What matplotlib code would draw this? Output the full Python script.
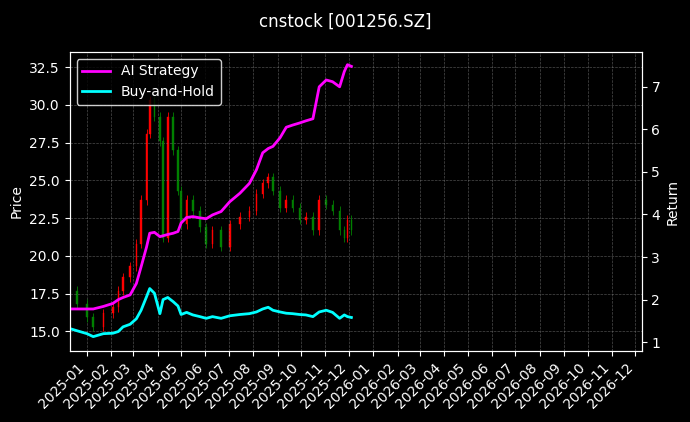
import matplotlib
matplotlib.use("Agg")
import matplotlib.pyplot as plt
import matplotlib.dates as mdates
import numpy as np
import pandas as pd

plt.style.use("dark_background")

dates = ["2024-12-10","2024-12-19","2025-01-01","2025-01-09","2025-01-22","2025-02-03","2025-02-10",
         "2025-02-16","2025-02-25","2025-03-05","2025-03-11","2025-03-18","2025-03-22","2025-03-28",
         "2025-04-04","2025-04-08","2025-04-14","2025-04-21","2025-04-27","2025-05-01","2025-05-08",
         "2025-05-16","2025-05-25","2025-06-02","2025-06-10","2025-06-21","2025-07-02","2025-07-15",
         "2025-07-27","2025-08-05","2025-08-13","2025-08-20","2025-08-26","2025-09-04","2025-09-12",
         "2025-09-20","2025-09-29","2025-10-07","2025-10-16","2025-10-24","2025-11-02","2025-11-10",
         "2025-11-19","2025-11-25","2025-11-29","2025-12-04"]
close = [17.7,16.85,15.95,15.3,16.2,16.6,17.7,18.6,19.3,20.8,23.7,28.1,30.3,29.2,27.6,21.2,29.2,27.0,
         24.3,22.1,23.7,23.0,21.9,20.8,21.7,20.6,22.1,22.6,23.0,24.1,24.8,25.2,24.3,23.2,23.7,23.2,
         22.4,22.6,21.7,23.7,23.4,23.0,21.7,21.2,22.4,21.7]
ai_ret = [1.78,1.78,1.78,1.78,1.84,1.91,2.0,2.05,2.11,2.38,2.77,3.24,3.56,3.58,3.48,3.5,3.53,3.56,3.6,
          3.8,3.93,3.95,3.92,3.9,3.99,4.07,4.3,4.5,4.73,5.05,5.45,5.55,5.6,5.8,6.05,6.1,6.15,6.2,6.25,
          7.0,7.16,7.12,7.0,7.36,7.52,7.48]
bh_ret = [1.32,1.27,1.2,1.13,1.2,1.21,1.25,1.36,1.42,1.55,1.75,2.07,2.26,2.15,1.67,2.0,2.05,1.95,1.85,
          1.65,1.7,1.64,1.6,1.56,1.6,1.56,1.62,1.65,1.67,1.71,1.78,1.82,1.75,1.71,1.68,1.67,1.65,1.64,
          1.6,1.71,1.75,1.7,1.56,1.64,1.6,1.58]

d = pd.to_datetime(dates)
x = mdates.date2num(d)
c = np.array(close)
o = np.concatenate([[c[0]], c[:-1]])

fig = plt.figure(figsize=(6.9, 4.22), dpi=100, facecolor="black")
ax = fig.add_axes([0.101, 0.168, 0.829, 0.709])
ax.set_facecolor("black")
for xi, oi, ci in zip(x, o, c):
    col = "red" if ci >= oi else "green"
    lo, hi = min(oi, ci), max(oi, ci)
    ax.vlines(xi, lo - 0.3, hi + 0.3, color=col, lw=0.6)
    ax.bar(xi, max(hi - lo, 0.05), bottom=lo, width=2.0, color=col, edgecolor=col, lw=0.3)

ax.set_ylim(13.7, 33.5)
ax.set_xlim(mdates.date2num(pd.Timestamp("2024-12-10")), mdates.date2num(pd.Timestamp("2026-12-09")))
ax.set_ylabel("Price")
ax.grid(True, color="gray", ls="--", lw=0.5, alpha=0.6)
ax.xaxis.set_major_locator(mdates.MonthLocator())
ax.xaxis.set_major_formatter(mdates.DateFormatter("%Y-%m"))
plt.setp(ax.get_xticklabels(), rotation=45, ha="right")

ax2 = ax.twinx()
ax2.plot(d, ai_ret, color="magenta", lw=2, label="AI Strategy")
ax2.plot(d, bh_ret, color="cyan", lw=2, label="Buy-and-Hold")
ax2.set_ylim(0.79, 7.82)
ax2.set_ylabel("Return")
ax2.legend(loc="upper left", facecolor="black", edgecolor="white")
fig.suptitle("cnstock [001256.SZ]", y=0.97)
fig.savefig("out.png", dpi=100, facecolor="black")
